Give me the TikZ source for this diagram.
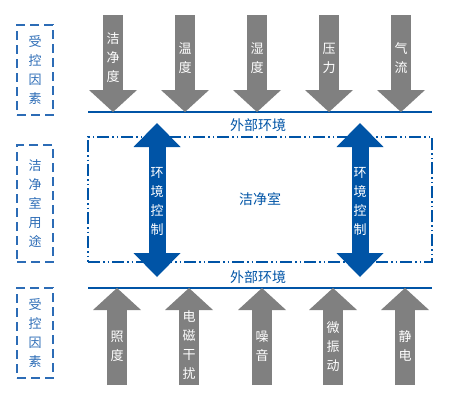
\documentclass[tikz,border=0pt]{standalone}
\usepackage{fontspec}
\newfontfamily\cjk{Noto Sans CJK SC}
\usepackage{xcolor}
\usetikzlibrary{arrows.meta, positioning}
\definecolor{envblue}{RGB}{0,84,166}
\definecolor{boxblue}{RGB}{44,108,182}
\definecolor{fgray}{RGB}{128,128,128}

\begin{document}
\begin{tikzpicture}[x=1pt, y=-1pt,
    every node/.style={font=\cjk\fontsize{13}{19}\selectfont, inner sep=0pt, align=center},
    side/.style={draw=boxblue, line width=1.4pt, dash pattern=on 9pt off 5pt, text=boxblue, minimum width=36pt},
    garr/.style={fgray, line width=20pt, -{Triangle[width=48pt, length=22pt, line width=0pt]}},
    barr/.style={envblue, line width=17pt, {Triangle[width=47pt, length=24pt, line width=0pt]}-{Triangle[width=47pt, length=24pt, line width=0pt]}},
    env/.style={envblue, line width=2pt},
    glbl/.style={text=white},
    elbl/.style={text=envblue, font=\cjk\fontsize{14}{19}\selectfont}]
  \useasboundingbox (0,0) rectangle (456,400);
  % left side labels
  \node[side, minimum height=90pt]  (ctltop) at (35,70)    {受\\控\\因\\素};
  \node[side, minimum height=117pt] (use)    at (35,203.5) {洁\\净\\室\\用\\途};
  \node[side, minimum height=90pt]  (ctlbot) at (35,333)   {受\\控\\因\\素};
  % clean room
  \node[draw=envblue, line width=1.2pt, dash pattern=on 12pt off 3pt on 1.5pt off 3pt on 1.5pt off 3pt,
        minimum width=344pt, minimum height=125pt, elbl] (room) at (260,199.5) {洁净室};
  % outside environment
  \coordinate (envtl) at (88,112);  \coordinate (envtr) at (432,112);
  \coordinate (envbl) at (88,288);  \coordinate (envbr) at (432,288);
  \draw[env] (envtl) -- (envtr);
  \draw[env] (envbl) -- (envbr);
  \node[elbl] (envtop) at (258,125) {外部环境};
  \node[elbl] (envbot) at (258,277) {外部环境};
  % factors from above
  \coordinate (f1) at (113,15); \coordinate (f2) at (185,15); \coordinate (f3) at (257,15);
  \coordinate (f4) at (329,15); \coordinate (f5) at (401,15);
  \draw[garr] (f1) -- (f1 |- envtl);
  \draw[garr] (f2) -- (f2 |- envtl);
  \draw[garr] (f3) -- (f3 |- envtl);
  \draw[garr] (f4) -- (f4 |- envtl);
  \draw[garr] (f5) -- (f5 |- envtl);
  \node[glbl] (clean) at (113,58) {洁\\净\\度};
  \node[glbl] (temp)  at (185,58) {温\\度};
  \node[glbl] (humid) at (257,58) {湿\\度};
  \node[glbl] (press) at (329,58) {压\\力};
  \node[glbl] (flow)  at (401,58) {气\\流};
  % factors from below
  \coordinate (g1) at (117,385); \coordinate (g2) at (189,385); \coordinate (g3) at (262,385);
  \coordinate (g4) at (333,385); \coordinate (g5) at (405,385);
  \draw[garr] (g1) -- (g1 |- envbl);
  \draw[garr] (g2) -- (g2 |- envbl);
  \draw[garr] (g3) -- (g3 |- envbl);
  \draw[garr] (g4) -- (g4 |- envbl);
  \draw[garr] (g5) -- (g5 |- envbl);
  \node[glbl] (light) at (117,346) {照\\度};
  \node[glbl] (emi)   at (189,345) {电\\磁\\干\\扰};
  \node[glbl] (noise) at (262,346) {噪\\音};
  \node[glbl] (vib)   at (333,347) {微\\振\\动};
  \node[glbl] (esd)   at (405,346) {静\\电};
  % environment control
  \coordinate (ca) at (157,123); \coordinate (cb) at (157,277);
  \coordinate (da) at (360,123); \coordinate (db) at (360,277);
  \draw[barr] (ca) -- (cb);
  \draw[barr] (da) -- (db);
  \node[glbl] (ctrla) at (157,201) {环\\境\\控\\制};
  \node[glbl] (ctrlb) at (360,201) {环\\境\\控\\制};
\end{tikzpicture}
\end{document}
